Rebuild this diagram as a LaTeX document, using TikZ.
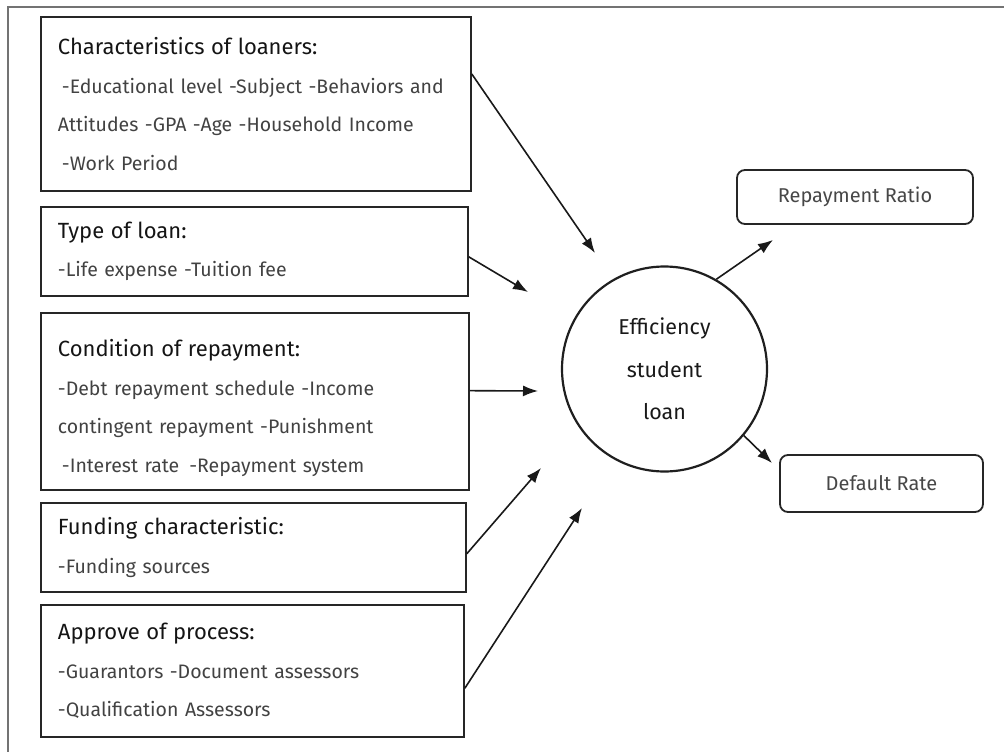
\documentclass[tikz,border=0pt]{standalone}
\usepackage{xcolor}
\usepackage{fontspec}
\setmainfont{Fira Sans}
\usepackage{tikz}
\usetikzlibrary{calc}
\usetikzlibrary{shapes,arrows,arrows.meta,positioning}
\tikzset{
	factor/.style={draw=black!85,line width=1.8pt,anchor=north west,inner xsep=17pt,inner ysep=0pt,align=left,text=black!74,font=\fontsize{19.5}{38.5}\selectfont},
	outcome/.style={draw=black!85,line width=1.8pt,rounded corners=8pt,text=black!72,font=\fontsize{20}{22}\selectfont},
	link/.style={-{Latex[length=15pt,width=11pt]},line width=1.6pt,black!90}
}
\newcommand{\hd}[1]{\textcolor{black!92}{\fontsize{22}{38.5}\selectfont #1}}
\begin{document}
\begin{tikzpicture}[x=1pt,y=-1pt]
	\useasboundingbox (0,0) rectangle (1004,752);
	\draw[black!55,line width=1.2pt] (1004,7) -- (8,7) -- (8,752);
	\node[factor,text width=396pt,minimum height=174pt] (loaner) at (40,16) {\hd{Characteristics of loaners:}\\\hspace{4pt}-Educational level -Subject -Behaviors and\\Attitudes -GPA -Age -Household Income\\\hspace{4pt}-Work Period};
	\node[factor,text width=393pt,minimum height=89pt] (loantype) at (40,206) {\hd{Type of loan:}\\-Life expense -Tuition fee};
	\node[factor,text width=394pt,minimum height=177pt] (repaycond) at (40,312) {\hd{\rule{0pt}{30pt}Condition of repayment:}\\-Debt repayment schedule -Income\\contingent repayment -Punishment\\\hspace{4pt}-Interest rate\hspace{10pt}-Repayment system};
	\node[factor,text width=391pt,minimum height=89pt] (funding) at (40,502) {\hd{Funding characteristic:}\\-Funding sources};
	\node[factor,text width=389pt,minimum height=132pt] (approve) at (40,604) {\hd{Approve of process:}\\-Guarantors -Document assessors\\-Qualification Assessors};
	\node[circle,draw=black!88,line width=2.2pt,minimum size=205pt,align=center,text=black!90,font=\fontsize{21.5}{42.5}\selectfont] (effic) at (664.5,369) {Efficiency\\student\\loan};
	\node[outcome,minimum width=236pt,minimum height=54pt] (ratio) at (855,197) {Repayment Ratio};
	\node[outcome,minimum width=203pt,minimum height=57pt] (default) at (881.5,483.5) {Default Rate};
	\coordinate (e1) at (595,253);
	\coordinate (e2) at (528,292);
	\coordinate (e3) at (538,391);
	\coordinate (e4) at (541,468);
	\coordinate (e5) at (582,508);
	\coordinate (r1) at (773,240);
	\coordinate (d1) at (772,463);
	\draw[link] ($(loaner.north east)!0.33!(loaner.south east)$) -- (e1);
	\draw[link] ($(loantype.north east)!0.56!(loantype.south east)$) -- (e2);
	\draw[link] ($(repaycond.north east)!0.44!(repaycond.south east)$) -- (e3);
	\draw[link] ($(funding.north east)!0.57!(funding.south east)$) -- (e4);
	\draw[link] ($(approve.north east)!0.63!(approve.south east)$) -- (e5);
	\draw[link] (effic.60) -- (r1);
	\draw[link] (effic.-40) -- (d1);
\end{tikzpicture}
\end{document}
